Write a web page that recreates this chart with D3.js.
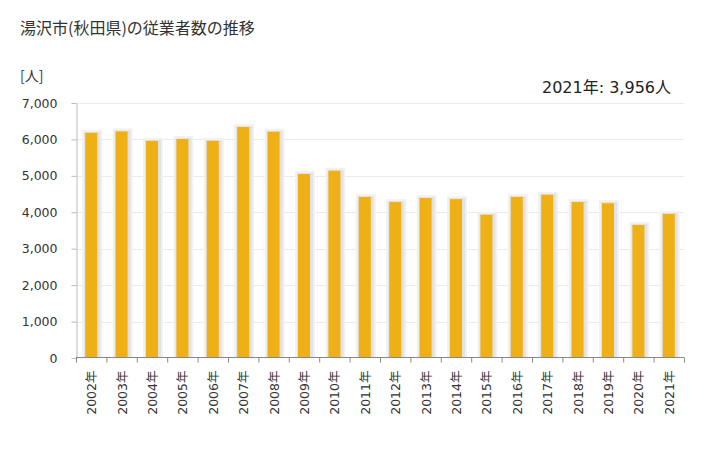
<!DOCTYPE html>
<html><head><meta charset="utf-8">
<script src="https://cdnjs.cloudflare.com/ajax/libs/d3/7.8.5/d3.min.js"></script>
<style>body{margin:0;background:#fff}svg{display:block}text{font-family:"Noto Sans CJK JP","Noto Sans",sans-serif}</style>
</head><body><svg id="c" width="728" height="450"></svg>
<script>
const years = ["2002年","2003年","2004年","2005年","2006年","2007年","2008年","2009年","2010年","2011年","2012年","2013年","2014年","2015年","2016年","2017年","2018年","2019年","2020年","2021年"];
const workers = [6180,6220,5960,6010,5960,6340,6210,5050,5140,4420,4280,4390,4360,3930,4420,4480,4280,4250,3650,3956];
const yTicks = [0,1000,2000,3000,4000,5000,6000,7000];
const title = "湯沢市(秋田県)の従業者数の推移";
const unit = "[人]";
const note = "2021年: 3,956人";

const svg = d3.select("#c");
const L=76,R=684,T=103,B=358;
const x = d3.scaleBand().domain(years).range([L,R]).paddingInner(0).paddingOuter(0);
const y = d3.scaleLinear().domain([0,7000]).range([B,T]);

svg.append("text").attr("x",20).attr("y",34).attr("font-size",16).attr("fill","#333").text(title);
svg.append("text").attr("x",20).attr("y",81).attr("font-size",14).attr("fill","#333").text(unit);
svg.append("text").attr("x",671).attr("y",93).attr("text-anchor","end").attr("font-size",16)
  .attr("fill","#222").style("font-family","'DejaVu Sans','Noto Sans CJK JP',sans-serif").text(note);

// grid
svg.append("g").selectAll("line").data(yTicks.filter(d=>d>0)).join("line")
  .attr("x1",L).attr("x2",R).attr("y1",d=>Math.round(y(d))+0.5).attr("y2",d=>Math.round(y(d))+0.5)
  .attr("stroke","#ebebeb").attr("stroke-width",1);

// y axis
const ya = svg.append("g").attr("transform",`translate(${L+0.5},0)`)
  .call(d3.axisLeft(y).tickValues(yTicks).tickSize(5).tickSizeOuter(0).tickFormat(d3.format(",")));
ya.select(".domain").attr("stroke","#bbb");
ya.selectAll(".tick line").attr("stroke","#bbb");
ya.selectAll(".tick text").attr("font-size",12.5).attr("fill","#333").attr("x",-19)
  .style("font-family","'DejaVu Sans',sans-serif");

// bars
const bw = 12;
const g = svg.append("g");
g.selectAll("rect.sh").data(workers).join("rect").attr("class","sh")
  .attr("x",(d,i)=>x(years[i])+x.bandwidth()/2-bw/2-3)
  .attr("y",d=>y(d)-3).attr("width",bw+8).attr("height",d=>B-y(d)+3)
  .attr("fill","#f2f2f2");
g.selectAll("rect.sh2").data(workers).join("rect").attr("class","sh2")
  .attr("x",(d,i)=>x(years[i])+x.bandwidth()/2-bw/2-1)
  .attr("y",d=>y(d)-1).attr("width",bw+4).attr("height",d=>B-y(d)+1)
  .attr("fill","#e2e2e2");
g.selectAll("rect.bar").data(workers).join("rect").attr("class","bar")
  .attr("x",(d,i)=>x(years[i])+x.bandwidth()/2-bw/2)
  .attr("y",d=>y(d)).attr("width",bw).attr("height",d=>B-y(d))
  .attr("fill","#EEB015");

// x axis
const xa = svg.append("g").attr("transform",`translate(0,${B-0.5})`);
xa.append("line").attr("x1",L).attr("x2",R).attr("stroke","#888");
xa.selectAll("line.t").data(d3.range(years.length+1)).join("line").attr("class","t")
  .attr("x1",i=>L+i*x.bandwidth()+0.5).attr("x2",i=>L+i*x.bandwidth()+0.5)
  .attr("y1",0).attr("y2",5).attr("stroke","#888");
xa.selectAll("text").data(years).join("text")
  .attr("transform",d=>`translate(${x(d)+x.bandwidth()/2+5},${13}) rotate(-90)`)
  .attr("text-anchor","end").attr("font-size",12.5).attr("fill","#333")
  .style("font-family","'DejaVu Sans','Noto Sans CJK JP',sans-serif").text(d=>d);
</script></body></html>
